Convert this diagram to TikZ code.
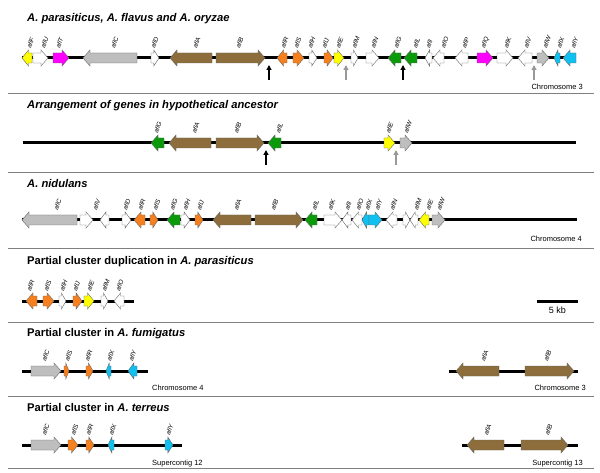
\documentclass[tikz,border=0pt]{standalone}
\usepackage{fontspec}
\setmainfont{Liberation Sans}
\usetikzlibrary{arrows.meta}
\definecolor{gyel}{HTML}{FFFF00}
\definecolor{gmag}{HTML}{FF00FF}
\definecolor{ggry}{HTML}{BEBEBE}
\definecolor{gbrn}{HTML}{8C6D3B}
\definecolor{gorg}{HTML}{F7801E}
\definecolor{ggrn}{HTML}{0A9A0A}
\definecolor{gcyn}{HTML}{10C0F0}
\tikzset{
  genebox/.style={draw=black!60,line width=0.4pt},
  chrom/.style={line width=3pt},
  sepline/.style={draw=black!50,line width=0.9pt},
  genelab/.style={font=\fontsize{6.3}{7}\selectfont\itshape,rotate=70,anchor=south west,inner sep=0pt},
  ttl/.style={font=\fontsize{11.2}{13}\selectfont\bfseries,anchor=base west,inner sep=0pt},
  chrlab/.style={font=\fontsize{7.5}{9}\selectfont,inner sep=0pt},
  blkptr/.style={line width=1.5pt,-{Triangle[length=5pt,width=5pt]}},
  gryptr/.style={blkptr,draw=black!40}
}
\newcommand\geneR[4]{%
  \pgfmathsetmacro\ghead{min(7,0.65*(#2-#1))}%
  \draw[genebox,fill=#4] (#1,#3-5) -- ({#2-\ghead},#3-5) -- ({#2-\ghead},#3-8) -- (#2,#3) -- ({#2-\ghead},#3+8) -- ({#2-\ghead},#3+5) -- (#1,#3+5) -- cycle;}
\newcommand\geneL[4]{%
  \pgfmathsetmacro\ghead{min(7,0.65*(#2-#1))}%
  \draw[genebox,fill=#4] (#2,#3-5) -- ({#1+\ghead},#3-5) -- ({#1+\ghead},#3-8) -- (#1,#3) -- ({#1+\ghead},#3+8) -- ({#1+\ghead},#3+5) -- (#2,#3+5) -- cycle;}
\newcommand\glab[4]{\node[genelab] (#1#4) at ({#2+3},{#3-9}) {#4};}
\begin{document}
\begin{tikzpicture}[x=1pt,y=-1pt]
\useasboundingbox (0,0) rectangle (600,473);
\fill[white] (0,0) rectangle (600,473);
% separators
\foreach \yy/\nm in {93/s1,172/s2,248/s3,322/s4,396/s5,468/s6}{
  \coordinate (\nm a) at (8,\yy); \coordinate (\nm b) at (594,\yy);
  \draw[sepline] (\nm a) -- (\nm b);
}
% ---------- Row 1 ----------
\node[ttl] (t1) at (27,22) {\itshape A. parasiticus, A. flavus and A. oryzae};
\coordinate (c1a) at (22,58); \coordinate (c1b) at (576,58);
\draw[chrom] (c1a) -- (c1b);
\geneL{22}{32}{58}{gyel}\glab{r1}{28}{58}{aflF}
\geneR{33}{48}{58}{white}\glab{r1}{42}{58}{aflU}
\geneR{53}{69}{58}{gmag}\glab{r1}{57}{58}{aflT}
\geneL{83}{137}{58}{ggry}\glab{r1}{112}{58}{aflC}
\geneR{151}{159}{58}{white}\glab{r1}{152}{58}{aflD}
\geneL{170}{212}{58}{gbrn}\glab{r1}{194}{58}{aflA}
\geneR{216}{265}{58}{gbrn}\glab{r1}{237}{58}{aflB}
\geneL{277}{287}{58}{gorg}\glab{r1}{282}{58}{aflR}
\geneR{293}{304}{58}{gorg}\glab{r1}{295}{58}{aflS}
\geneR{309}{317}{58}{white}\glab{r1}{309}{58}{aflH}
\geneR{324}{333}{58}{gorg}\glab{r1}{323}{58}{aflJ}
\geneR{334}{344}{58}{gyel}\glab{r1}{337}{58}{aflE}
\geneR{351}{358}{58}{white}\glab{r1}{353}{58}{aflM}
\geneR{366}{379}{58}{white}\glab{r1}{372}{58}{aflN}
\geneL{388}{401}{58}{ggrn}\glab{r1}{395}{58}{aflG}
\geneL{404}{417}{58}{ggrn}\glab{r1}{414}{58}{aflL}
\geneL{425}{432}{58}{white}\glab{r1}{427}{58}{aflI}
\geneL{433}{444}{58}{white}\glab{r1}{442}{58}{aflO}
\geneL{455}{468}{58}{white}\glab{r1}{463}{58}{aflP}
\geneR{477}{493}{58}{gmag}\glab{r1}{483}{58}{aflQ}
\geneR{497}{513}{58}{white}\glab{r1}{505}{58}{aflK}
\geneL{518}{532}{58}{white}\glab{r1}{525}{58}{aflV}
\geneR{537}{549}{58}{ggry}\glab{r1}{544}{58}{aflW}
\geneL{554}{560}{58}{gcyn}\glab{r1}{558}{58}{aflX}
\geneL{563}{576}{58}{gcyn}\glab{r1}{572}{58}{aflY}
\coordinate (p1a) at (269,80); \coordinate (p1b) at (269,65);
\draw[blkptr] (p1a) -- (p1b);
\coordinate (p2a) at (346,80); \coordinate (p2b) at (346,65);
\draw[gryptr] (p2a) -- (p2b);
\coordinate (p3a) at (403,80); \coordinate (p3b) at (403,65);
\draw[blkptr] (p3a) -- (p3b);
\coordinate (p4a) at (534,80); \coordinate (p4b) at (534,65);
\draw[gryptr] (p4a) -- (p4b);
\node[chrlab,anchor=base east] (ch1) at (583,90) {Chromosome 3};
% ---------- Row 2 ----------
\node[ttl] (t2) at (27,108.5) {\itshape Arrangement of genes in hypothetical ancestor};
\coordinate (c2a) at (23,143); \coordinate (c2b) at (576,143);
\draw[chrom] (c2a) -- (c2b);
\geneL{151}{164}{143}{ggrn}\glab{r2}{155}{143}{aflG}
\geneL{169}{211}{143}{gbrn}\glab{r2}{193}{143}{aflA}
\geneR{216}{264}{143}{gbrn}\glab{r2}{235}{143}{aflB}
\geneL{268}{281}{143}{ggrn}\glab{r2}{277}{143}{aflL}
\geneR{384}{395}{143}{gyel}\glab{r2}{387}{143}{aflE}
\geneR{400}{412}{143}{ggry}\glab{r2}{405}{143}{aflW}
\coordinate (p5a) at (266,165); \coordinate (p5b) at (266,150);
\draw[blkptr] (p5a) -- (p5b);
\coordinate (p6a) at (396,165); \coordinate (p6b) at (396,150);
\draw[gryptr] (p6a) -- (p6b);
% ---------- Row 3 ----------
\node[ttl] (t3) at (27,188) {\itshape A. nidulans};
\coordinate (c3a) at (22,220); \coordinate (c3b) at (577,220);
\draw[chrom] (c3a) -- (c3b);
\geneL{22}{77}{220}{ggry}\glab{r3}{55}{220}{aflC}
\geneR{80}{93}{220}{white}
\geneL{100}{109}{220}{white}\glab{r3}{94}{220}{aflV}
\geneR{122}{131}{220}{white}\glab{r3}{124}{220}{aflD}
\geneL{134}{145}{220}{gorg}\glab{r3}{139}{220}{aflR}
\geneR{150}{158}{220}{gorg}\glab{r3}{154}{220}{aflS}
\geneL{167}{180}{220}{ggrn}\glab{r3}{171}{220}{aflG}
\geneR{181}{190}{220}{white}\glab{r3}{184}{220}{aflH}
\geneR{195}{203}{220}{gorg}\glab{r3}{198}{220}{aflJ}
\geneL{213}{251}{220}{gbrn}\glab{r3}{235}{220}{aflA}
\geneR{255}{303}{220}{gbrn}\glab{r3}{272}{220}{aflB}
\geneL{305}{317}{220}{ggrn}\glab{r3}{313}{220}{aflL}
\geneR{324}{342}{220}{white}\glab{r3}{329}{220}{aflK}
\geneL{342}{351}{220}{white}\glab{r3}{346}{220}{aflI}
\geneL{352}{362}{220}{white}\glab{r3}{357}{220}{aflO}
\geneL{362}{369}{220}{gcyn}\glab{r3}{366}{220}{aflX}
\geneR{369}{382}{220}{gcyn}\glab{r3}{376}{220}{aflY}
\geneL{386}{397}{220}{white}\glab{r3}{391}{220}{aflN}
\geneR{403}{410}{220}{white}
\geneL{410}{418}{220}{white}\glab{r3}{415}{220}{aflM}
\geneL{419}{429}{220}{gyel}\glab{r3}{427}{220}{aflE}
\geneR{432}{445}{220}{ggry}\glab{r3}{438}{220}{aflW}
\node[chrlab,anchor=base east] (ch2) at (582,242) {Chromosome 4};
% ---------- Row 4 ----------
\node[ttl] (t4) at (27,265) {Partial cluster duplication in \textit{A. parasiticus}};
\coordinate (c4a) at (22,301); \coordinate (c4b) at (134,301);
\draw[chrom] (c4a) -- (c4b);
\geneL{26}{37}{301}{gorg}\glab{r4}{28}{301}{aflR}
\geneR{43}{54}{301}{gorg}\glab{r4}{45}{301}{aflS}
\geneR{59}{66}{301}{white}\glab{r4}{61}{301}{aflH}
\geneR{73}{82}{301}{gorg}\glab{r4}{74}{301}{aflJ}
\geneR{84}{94}{301}{gyel}\glab{r4}{88}{301}{aflE}
\geneR{101}{108}{301}{white}\glab{r4}{103}{301}{aflM}
\geneL{114}{124}{301}{white}\glab{r4}{117}{301}{aflO}
\coordinate (sba) at (537,301); \coordinate (sbb) at (578,301);
\draw[chrom] (sba) -- (sbb);
\node[font=\fontsize{9}{10}\selectfont,inner sep=0pt,anchor=base] (sbl) at (557.5,313.5) {5 kb};
% ---------- Row 5 ----------
\node[ttl] (t5) at (27,336) {Partial cluster in \textit{A. fumigatus}};
\coordinate (c5a) at (22,371); \coordinate (c5b) at (148,371);
\draw[chrom] (c5a) -- (c5b);
\geneR{31}{61}{371}{ggry}\glab{r5}{43}{371}{aflC}
\geneR{64}{69}{371}{gorg}\glab{r5}{66}{371}{aflS}
\geneR{86}{93}{371}{gorg}\glab{r5}{86}{371}{aflR}
\geneL{106}{111}{371}{gcyn}\glab{r5}{108}{371}{aflX}
\geneL{128}{137}{371}{gcyn}\glab{r5}{130}{371}{aflY}
\node[chrlab,anchor=base west] (ch3) at (152,390) {Chromosome 4};
\coordinate (c6a) at (449,371); \coordinate (c6b) at (578,371);
\draw[chrom] (c6a) -- (c6b);
\geneL{456}{499}{371}{gbrn}\glab{r5}{482}{371}{aflA}
\geneR{525}{574}{371}{gbrn}\glab{r5}{545}{371}{aflB}
\node[chrlab,anchor=base east] (ch4) at (586,390) {Chromosome 3};
% ---------- Row 6 ----------
\node[ttl] (t6) at (27,411) {Partial cluster in \textit{A. terreus}};
\coordinate (c7a) at (22,445); \coordinate (c7b) at (182,445);
\draw[chrom] (c7a) -- (c7b);
\geneR{31}{61}{445}{ggry}\glab{r6}{43}{445}{aflC}
\geneR{68}{78}{445}{gorg}\glab{r6}{72}{445}{aflS}
\geneR{86}{94}{445}{gorg}\glab{r6}{87}{445}{aflR}
\geneL{108}{114}{445}{gcyn}\glab{r6}{110}{445}{aflX}
\geneR{165}{173}{445}{gcyn}\glab{r6}{167}{445}{aflY}
\node[chrlab,anchor=base west] (ch5) at (152,465) {Supercontig 12};
\coordinate (c8a) at (462,445); \coordinate (c8b) at (578,445);
\draw[chrom] (c8a) -- (c8b);
\geneL{467}{504}{445}{gbrn}\glab{r6}{485}{445}{aflA}
\geneR{521}{568}{445}{gbrn}\glab{r6}{546}{445}{aflB}
\node[chrlab,anchor=base east] (ch6) at (583,465) {Supercontig 13};
\end{tikzpicture}
\end{document}
